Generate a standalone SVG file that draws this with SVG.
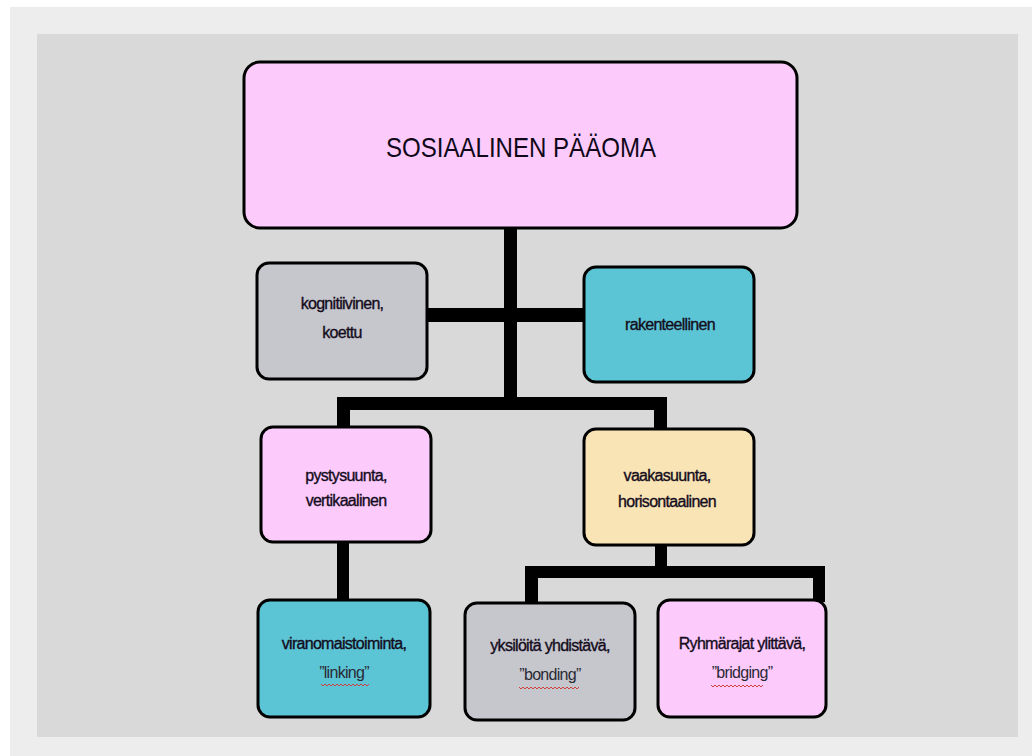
<svg xmlns="http://www.w3.org/2000/svg" width="1032" height="756" viewBox="0 0 1032 756">
<style>
.box{stroke:#000;stroke-width:3}
.t{font-family:"Liberation Sans",Arial,sans-serif;font-size:16px;fill:#140c1c;stroke:#140c1c;stroke-width:0.35px;text-anchor:middle;letter-spacing:-0.7px}
.q{fill:#2a2a34;stroke:none}
.title{font-family:"Liberation Sans",Arial,sans-serif;font-size:28px;fill:#100818;text-anchor:middle}
.bar{fill:#000}
.sq{fill:none;stroke:#d04040;stroke-width:1}
</style>
<rect x="0" y="0" width="1032" height="756" fill="#ffffff"/>
<rect x="10" y="7" width="1022" height="749" fill="#ededed"/>
<rect x="37" y="34" width="981" height="703" fill="#d9d9d9"/>
<g id="connectors">
<rect class="bar" x="504" y="228" width="13" height="180"/>
<rect class="bar" x="427" y="308" width="158" height="14"/>
<rect class="bar" x="337" y="397" width="330" height="13"/>
<rect class="bar" x="337" y="397" width="13" height="32"/>
<rect class="bar" x="654" y="397" width="13" height="34"/>
<rect class="bar" x="337" y="541" width="12" height="60"/>
<rect class="bar" x="655" y="544" width="12" height="30"/>
<rect class="bar" x="525" y="566" width="300" height="12"/>
<rect class="bar" x="525" y="566" width="13" height="38"/>
<rect class="bar" x="813" y="566" width="12" height="36"/>
</g>
<g id="n_root">
<rect class="box" x="244" y="62" width="553" height="166" rx="16" fill="#fccbfc"/>
<text class="title" x="521" y="157" textLength="270" lengthAdjust="spacingAndGlyphs">SOSIAALINEN PÄÄOMA</text>
</g>
<g id="n_kog">
<rect class="box" x="257" y="263" width="170" height="116" rx="12" fill="#c6c6cd"/>
<text class="t" x="342" y="309">kognitiivinen,</text>
<text class="t" x="342" y="338">koettu</text>
</g>
<g id="n_rak">
<rect class="box" x="584" y="267" width="170" height="115" rx="12" fill="#5bc5d6"/>
<text class="t" x="670" y="330">rakenteellinen</text>
</g>
<g id="n_pys">
<rect class="box" x="261" y="427" width="170" height="115" rx="12" fill="#fccbfc"/>
<text class="t" x="346" y="481">pystysuunta,</text>
<text class="t" x="346" y="506">vertikaalinen</text>
</g>
<g id="n_vaa">
<rect class="box" x="584" y="429" width="170" height="116" rx="12" fill="#f9e4b5"/>
<text class="t" x="667" y="481">vaakasuunta,</text>
<text class="t" x="667" y="507">horisontaalinen</text>
</g>
<g id="n_vir">
<rect class="box" x="258" y="600" width="172" height="117" rx="12" fill="#5bc5d6"/>
<text class="t" x="344" y="649">viranomaistoiminta,</text>
<text class="t q" x="344" y="678">”linking”</text>
<path class="sq" d="M321 684 l2 2 l2 -2 l2 2 l2 -2 l2 2 l2 -2 l2 2 l2 -2 l2 2 l2 -2 l2 2 l2 -2 l2 2 l2 -2 l2 2 l2 -2 l2 2 l2 -2 l2 2 l2 -2 l2 2 l2 -2 l2 2 l2 -2"/>
</g>
<g id="n_yks">
<rect class="box" x="465" y="603" width="170" height="117" rx="12" fill="#c6c6cd"/>
<text class="t" x="550" y="651">yksilöitä yhdistävä,</text>
<text class="t q" x="550" y="680">”bonding”</text>
<path class="sq" d="M519 687 l2 2 l2 -2 l2 2 l2 -2 l2 2 l2 -2 l2 2 l2 -2 l2 2 l2 -2 l2 2 l2 -2 l2 2 l2 -2 l2 2 l2 -2 l2 2 l2 -2 l2 2 l2 -2 l2 2 l2 -2 l2 2 l2 -2 l2 2 l2 -2 l2 2 l2 -2 l2 2 l2 -2"/>
</g>
<g id="n_ryh">
<rect class="box" x="658" y="600" width="168" height="117" rx="12" fill="#fccbfc"/>
<text class="t" x="742" y="649">Ryhmärajat ylittävä,</text>
<text class="t q" x="742" y="678">”bridging”</text>
<path class="sq" d="M711 685 l2 2 l2 -2 l2 2 l2 -2 l2 2 l2 -2 l2 2 l2 -2 l2 2 l2 -2 l2 2 l2 -2 l2 2 l2 -2 l2 2 l2 -2 l2 2 l2 -2 l2 2 l2 -2 l2 2 l2 -2 l2 2 l2 -2 l2 2 l2 -2"/>
</g>
</svg>
